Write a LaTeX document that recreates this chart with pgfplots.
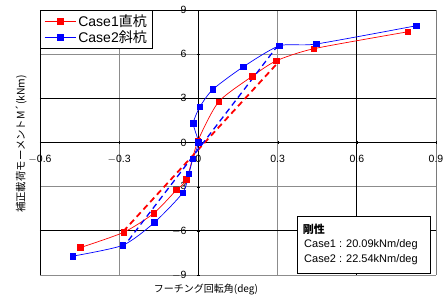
\documentclass[border=0pt]{standalone}
\usepackage{fontspec}
\setmainfont{Liberation Sans}
\newfontfamily\jp{Noto Sans CJK JP}
\usepackage{pgfplots}
\pgfplotsset{compat=1.18}
\begin{document}
\begin{tikzpicture}
\begin{axis}[
  name=ax,
  scale only axis,
  width=396pt, height=265pt,
  xmin=-0.6, xmax=0.9, ymin=-9, ymax=9,
  enlargelimits=false,
  axis lines=middle,
  axis line style={-, black, line width=0.9pt},
  hide obscured x ticks=false, hide obscured y ticks=false,
  xtick={-0.6,-0.3,0,0.3,0.6,0.9},
  ytick={-9,-6,-3,0,3,6,9},
  xticklabels={$-$0.6,$-$0.3,0,0.3,0.6,0.9},
  yticklabels={$-$9,$-$6,$-$3,0,3,6,9},
  /pgf/number format/assume math mode=true,
  tick label style={font=\fontsize{10.5}{12}\selectfont},
  xticklabel style={yshift=-8pt},
  yticklabel style={xshift=-7pt},
  major tick length=3pt,
  tick style={black},
  grid=major,
  grid style={black!45, line width=0.7pt},
  extra x ticks={0.6},
  extra x tick labels={},
  extra y ticks={3,-6},
  extra y tick labels={},
  extra tick style={grid style={black, line width=0.7pt}},
  legend style={at={(rel axis cs:0,1)}, anchor=north west, draw=black, line width=0.9pt,
    font=\fontsize{14}{16}\selectfont, inner xsep=4pt, inner ysep=2pt, row sep=-1pt,
    cells={anchor=west}},
  legend cell align=left,
  legend image code/.code={\draw[#1, line width=0.6pt] (0cm,0cm) -- (1.1cm,0cm); \draw[#1, mark repeat=1] plot coordinates {(0.55cm,0cm)};},
]
\draw[black, line width=0.9pt] (rel axis cs:0,0) rectangle (rel axis cs:1,1);

\addplot[red, line width=0.7pt, smooth, tension=0.4, mark=square*, mark size=2.8pt, mark options={solid}] coordinates {
(-0.447,-7.14) (-0.283,-6.10) (-0.169,-4.81) (-0.083,-3.22) (-0.045,-2.50) (-0.002,0.10) (0.077,2.77) (0.205,4.51) (0.295,5.55) (0.437,6.37) (0.793,7.52)};
\addlegendentry{Case1{\jp 直杭}}

\addplot[blue, line width=0.7pt, smooth, tension=0.4, mark=square*, mark size=2.8pt, mark options={solid}] coordinates {
(-0.476,-7.72) (-0.286,-6.98) (-0.167,-5.44) (-0.059,-3.41) (-0.036,-2.12) (-0.021,-1.10) (0.0,0.0) (-0.019,1.30) (0.006,2.43) (0.055,3.61) (0.170,5.14) (0.307,6.57) (0.446,6.69) (0.825,7.93)};
\addlegendentry{Case2{\jp 斜杭}}

\addplot[red, line width=1.8pt, dash pattern=on 6pt off 4pt, forget plot] coordinates {(-0.285,-6.05) (0.30,5.40)};
\addplot[blue, line width=1.3pt, dash pattern=on 6pt off 4pt, forget plot] coordinates {(-0.265,-6.65) (0.295,6.45)};

\draw[black, fill=white, line width=0.8pt] (axis cs:0.374,-4.99) rectangle (axis cs:0.878,-8.86);
\node[anchor=north west, inner sep=0pt, font=\fontsize{11}{12}\selectfont] at (axis cs:0.395,-5.50) {\jp\bfseries 剛性};
\node[anchor=north west, inner sep=0pt, font=\fontsize{11}{12}\selectfont] at (axis cs:0.400,-6.57) {Case1 : 20.09kNm/deg};
\node[anchor=north west, inner sep=0pt, font=\fontsize{11}{12}\selectfont] at (axis cs:0.400,-7.60) {Case2 : 22.54kNm/deg};
\end{axis}
\node[font=\fontsize{10}{12}\selectfont] at ([xshift=-32pt,yshift=-15pt]ax.south) {\jp フーチング回転角(deg)};
\node[rotate=90, font=\fontsize{10.4}{12}\selectfont] at ([xshift=-19pt,yshift=-1.5pt]ax.west) {\jp 補正載荷モーメントM´(kNm)};
\pgfresetboundingbox
\path (ax.south west) ++(-40pt,-26pt) rectangle ([xshift=9pt,yshift=10pt]ax.north east);
\end{tikzpicture}
\end{document}
